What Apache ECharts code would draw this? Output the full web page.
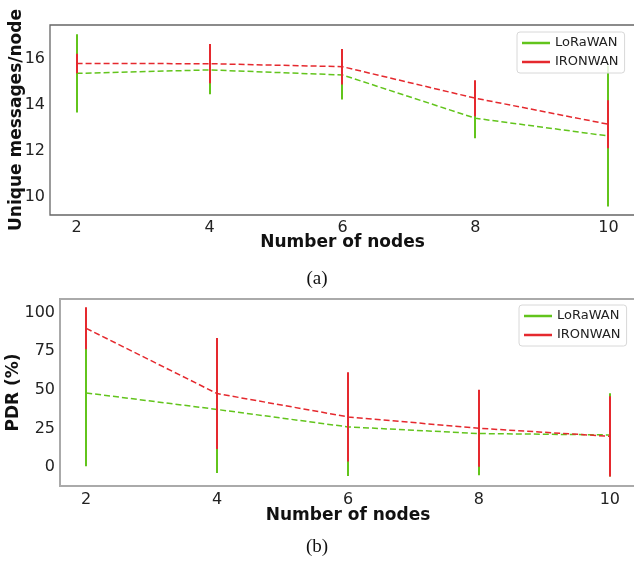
<!DOCTYPE html>
<html>
<head>
<meta charset="utf-8">
<script src="https://cdn.jsdelivr.net/npm/echarts@6/dist/echarts.min.js"></script>
<style>html,body{margin:0;padding:0;background:#fff;}#c{width:634px;height:562px;}</style>
</head>
<body>
<div id="c"></div>
<script>
// ---- data ----
var xNodes = [2, 4, 6, 8, 10];
var xTicks = [2, 4, 6, 8, 10];
var yTicksTop = [10, 12, 14, 16];
var yTicksBottom = [0, 25, 50, 75, 100];
var seriesNames = ['LoRaWAN', 'IRONWAN'];

var uniqLoraMean = [15.35, 15.5, 15.28, 13.4, 12.63];
var uniqLoraErr  = [1.7, 1.06, 1.06, 0.87, 3.06];
var uniqIronMean = [15.78, 15.77, 15.64, 14.27, 13.14];
var uniqIronErr  = [0.42, 0.85, 0.77, 0.78, 1.04];

var pdrLoraMean = [48.0, 37.3, 26.0, 21.7, 20.8];
var pdrLoraErr  = [47.5, 41.2, 31.8, 27.0, 27.0];
var pdrIronMean = [89.9, 47.6, 32.5, 25.1, 19.9];
var pdrIronErr  = [13.6, 36.0, 29.0, 25.0, 26.0];

// ---- styling ----
var GREEN = '#62c41c', RED = '#e5292e';
var FONT = 'DejaVu Sans';

function pairs(xs, ys) { return xs.map(function (x, i) { return [x, ys[i]]; }); }
function errData(xs, m, e) { return xs.map(function (x, i) { return [x, m[i] - e[i], m[i] + e[i]]; }); }

function lineSeries(name, color, xi, yi, data, z) {
  return { type: 'line', name: name, xAxisIndex: xi, yAxisIndex: yi, data: data,
    symbol: 'none', z: z, lineStyle: { color: color, width: 1.5, type: [6, 3] },
    itemStyle: { color: color }, emphasis: { disabled: true }, animation: false };
}
function errSeries(name, color, xi, yi, data, z) {
  return { type: 'custom', name: name, xAxisIndex: xi, yAxisIndex: yi, data: data, z: z,
    itemStyle: { color: color }, animation: false, silent: true,
    renderItem: function (params, api) {
      var p1 = api.coord([api.value(0), api.value(1)]);
      var p2 = api.coord([api.value(0), api.value(2)]);
      var x = Math.round(p1[0]);
      return { type: 'line', shape: { x1: x, y1: p1[1], x2: x, y2: p2[1] },
        style: { stroke: color, lineWidth: 2 } };
    } };
}

function xAxisCfg(gi, nameGap, margin) {
  return { type: 'value', gridIndex: gi, min: 1.6, max: 10.4,
    name: 'Number of nodes', nameLocation: 'middle', nameGap: nameGap, nameMoveOverlap: false,
    nameTextStyle: { fontFamily: FONT, fontWeight: 'bold', fontSize: 17, color: '#111' },
    axisLine: { show: false }, splitLine: { show: false },
    axisTick: { show: false },
    axisLabel: { customValues: xTicks, margin: margin, fontFamily: FONT, fontSize: 16, color: '#222' } };
}
function yAxisCfg(gi, name, min, max, ticks, nameGap) {
  return { type: 'value', gridIndex: gi, min: min, max: max,
    name: name, nameLocation: 'middle', nameGap: nameGap, nameMoveOverlap: false,
    nameTextStyle: { fontFamily: FONT, fontWeight: 'bold', fontSize: 17, color: '#111' },
    axisLine: { show: false }, splitLine: { show: false },
    axisTick: { show: false },
    axisLabel: { customValues: ticks, margin: 5, fontFamily: FONT, fontSize: 16, color: '#222' } };
}
function legendCfg(left, top) {
  return { orient: 'vertical', left: left, top: top, data: seriesNames.slice(),
    icon: 'rect', itemWidth: 28, itemHeight: 2.5, itemGap: 5,
    padding: [4, 6, 4, 5], borderColor: '#d8d8d8', borderWidth: 1, borderRadius: 3,
    backgroundColor: 'rgba(255,255,255,0.85)',
    textStyle: { fontFamily: FONT, fontSize: 13, color: '#222', lineHeight: 14 },
    selectedMode: false };
}

var chart = echarts.init(document.getElementById('c'), null, { renderer: 'canvas' });
chart.setOption({
  backgroundColor: '#fff',
  color: [GREEN, RED],
  animation: false,
  grid: [
    { left: 50, top: 25, width: 585, height: 190, show: true, borderColor: '#666', borderWidth: 1.3, backgroundColor: 'transparent', containLabel: false, outerBoundsMode: 'none' },
    { left: 60, top: 299, width: 576, height: 187, show: true, borderColor: '#aaa', borderWidth: 2, backgroundColor: 'transparent', containLabel: false, outerBoundsMode: 'none' }
  ],
  xAxis: [xAxisCfg(0, 19, 5), xAxisCfg(1, 21, 6)],
  yAxis: [
    yAxisCfg(0, 'Unique messages/node', 9.2, 17.45, yTicksTop, 25),
    yAxisCfg(1, 'PDR (%)', -12.3, 108.9, yTicksBottom, 38)
  ],
  legend: [legendCfg(517, 32), legendCfg(519, 305)],
  series: [
    errSeries('LoRaWAN', GREEN, 0, 0, errData(xNodes, uniqLoraMean, uniqLoraErr), 2),
    lineSeries('LoRaWAN', GREEN, 0, 0, pairs(xNodes, uniqLoraMean), 2),
    lineSeries('IRONWAN', RED, 0, 0, pairs(xNodes, uniqIronMean), 3),
    errSeries('IRONWAN', RED, 0, 0, errData(xNodes, uniqIronMean, uniqIronErr), 3),
    errSeries('LoRaWAN', GREEN, 1, 1, errData(xNodes, pdrLoraMean, pdrLoraErr), 2),
    lineSeries('LoRaWAN', GREEN, 1, 1, pairs(xNodes, pdrLoraMean), 2),
    lineSeries('IRONWAN', RED, 1, 1, pairs(xNodes, pdrIronMean), 3),
    errSeries('IRONWAN', RED, 1, 1, errData(xNodes, pdrIronMean, pdrIronErr), 3)
  ],
  graphic: [
    { type: 'text', left: 'center', top: 270, style: { text: '(a)', font: '19px "Liberation Serif"', fill: '#111' } },
    { type: 'text', left: 'center', top: 538, style: { text: '(b)', font: '19px "Liberation Serif"', fill: '#111' } }
  ]
});
</script>
</body>
</html>
